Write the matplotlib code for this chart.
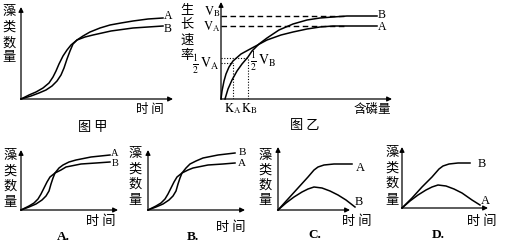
import matplotlib
matplotlib.use('Agg')
import matplotlib.pyplot as plt

plt.rcParams['font.family'] = ['Noto Sans CJK SC', 'DejaVu Sans']
plt.rcParams['mathtext.fontset'] = 'stix'

W, H = 505, 249

# ---- data (relative units: time / amount) ----
# 图甲: algae number vs time
jia_A_t = [0, 10, 18, 25, 31, 36, 40, 43, 46, 49, 52, 56, 62, 69, 79, 89, 100, 112, 127, 142]
jia_A_n = [0, 3, 6, 9, 13, 18, 24, 31, 40, 48, 55, 59, 63, 67, 71, 74, 76, 78, 80, 81]
jia_B_t = [0, 8, 15, 22, 28, 32, 35, 38, 42, 46, 50, 56, 64, 72, 90, 112, 142]
jia_B_n = [0, 4, 7, 11, 16, 22, 28, 35, 43, 49, 54, 59, 62, 64, 68, 71, 73]

# 图乙: growth rate vs phosphorus content
yi_A_p = [0, 1, 3, 5, 8, 12, 20, 31, 46, 60, 72, 86, 99, 112, 126, 156]
yi_A_v = [0, 8, 18, 25, 32, 38, 45, 51, 59, 64, 67, 70, 72, 73, 73, 73]
yi_B_p = [4, 7, 11, 16, 21, 27, 31, 38, 46, 58, 72, 86, 99, 112, 126, 156]
yi_B_v = [0, 10, 19, 28, 35, 42, 48, 55, 61, 69, 75, 79, 81, 82, 83, 83]
V_A, V_B = 73, 83
K_A, K_B = 12, 27

# option A
optA_A_t = [0, 8, 15, 21, 25, 28, 30, 32, 34, 38, 42, 48, 55, 70, 89]
optA_A_n = [0, 3, 6, 10, 14, 19, 26, 32, 37, 42, 45, 48, 50, 53, 55]
optA_B_t = [0, 8, 13, 17, 20, 23, 26, 29, 34, 40, 45, 60, 75, 89]
optA_B_n = [0, 4, 7, 11, 16, 22, 28, 33, 37, 40, 43, 46, 47, 48]
# option B
optB_B_t = [0, 8, 15, 21, 25, 28, 30, 32, 34, 38, 42, 48, 55, 70, 87]
optB_B_n = [0, 3, 6, 10, 14, 19, 26, 32, 37, 42, 46, 49, 52, 55, 57]
optB_A_t = [0, 8, 13, 17, 20, 23, 26, 29, 34, 40, 45, 60, 75, 87]
optB_A_n = [0, 4, 7, 11, 16, 22, 28, 33, 37, 40, 42, 45, 46, 47]
# option C
optC_A_t = [0, 10, 20, 30, 36, 40, 46, 56, 74]
optC_A_n = [0, 11, 22, 33, 40, 43, 45, 46, 46]
optC_B_t = [0, 8, 16, 24, 30, 36, 44, 52, 60, 68, 77]
optC_B_n = [0, 7, 13, 18, 21, 23, 22, 19, 15, 10, 3]
# option D
optD_B_t = [0, 10, 20, 30, 37, 41, 47, 56, 68]
optD_B_n = [0, 10, 21, 31, 39, 42, 44, 45, 45]
optD_A_t = [0, 8, 16, 24, 30, 36, 44, 52, 60, 70, 78]
optD_A_n = [0, 7, 13, 18, 21, 23, 22, 19, 15, 8, 3]

fig = plt.figure(figsize=(W / 100, H / 100), dpi=100)
fig.patch.set_facecolor('white')

LW = 1.1


def panel(ox, oy, ex, ey):
    """Axes whose origin sits at pixel (ox, oy), arrows end at ex / ey."""
    ax = fig.add_axes([ox / W, 1 - oy / H, (ex - ox) / W, (oy - ey) / H])
    ax.set_xlim(0, ex - ox)
    ax.set_ylim(0, oy - ey)
    ax.axis('off')
    ap = dict(arrowstyle='-|>', lw=0.9, color='k', mutation_scale=7,
              shrinkA=0, shrinkB=0)
    ax.annotate('', xy=(ex - ox, 0), xytext=(0, 0), arrowprops=ap,
                annotation_clip=False)
    ax.annotate('', xy=(0, oy - ey), xytext=(0, 0), arrowprops=ap,
                annotation_clip=False)
    return ax


def txt(x, y, s, size=9, **kw):
    fig.text(x / W, 1 - y / H, s, ha='center', va='center', size=size, **kw)


def vlabel(x, ys, s, size=9):
    for ch, y in zip(s, ys):
        txt(x, y, ch, size=size)


serif = dict(family='Liberation Serif')

# ---- 图甲 ----
ax = panel(21, 99, 173, 7)
ax.plot(jia_A_t, jia_A_n, color='k', lw=LW, clip_on=False)
ax.plot(jia_B_t, jia_B_n, color='k', lw=LW, clip_on=False)
vlabel(9, [12, 27, 43, 58], '藻类数量', 9.5)
txt(168, 16, 'A', 8.5, **serif)
txt(168, 29, 'B', 8.5, **serif)
txt(150, 109, '时 间', 9)
txt(93, 127, '图 甲', 9.5)

# ---- 图乙 ----
ax = panel(221, 99, 392, 2)
ax.plot(yi_A_p, yi_A_v, color='k', lw=LW, clip_on=False)
ax.plot(yi_B_p, yi_B_v, color='k', lw=LW, clip_on=False)
ax.plot([0, 126], [V_B, V_B], color='k', lw=1.0, ls=(0, (4, 2.5)))
ax.plot([0, 126], [V_A, V_A], color='k', lw=1.0, ls=(0, (4, 2.5)))
ax.plot([0, K_B], [V_B / 2, V_B / 2], color='k', lw=0.8, ls=(0, (1, 1.5)))
ax.plot([K_B, K_B], [0, V_B / 2], color='k', lw=0.8, ls=(0, (1, 1.5)))
ax.plot([0, K_A], [V_A / 2, V_A / 2], color='k', lw=0.8, ls=(0, (1, 1.5)))
ax.plot([K_A, K_A], [0, V_A / 2], color='k', lw=0.8, ls=(0, (1, 1.5)))
vlabel(187, [10, 24, 40, 55], '生长速率', 9.5)
txt(212, 12, r'$\mathrm{V_B}$', 9)
txt(212, 27, r'$\mathrm{V_A}$', 9)
txt(206, 64, r'$\frac{1}{2}\,\mathrm{V_A}$', 10)
txt(263, 61, r'$\frac{1}{2}\,\mathrm{V_B}$', 10)
txt(233, 109, r'$\mathrm{K_A}$', 9)
txt(249, 109, r'$\mathrm{K_B}$', 9)
txt(382, 15, 'B', 8.5, **serif)
txt(382, 27, 'A', 8.5, **serif)
txt(372, 109, '含磷量', 9)
txt(305, 125, '图 乙', 9.5)

# ---- option A ----
ax = panel(21, 210, 118, 150)
ax.plot(optA_A_t, optA_A_n, color='k', lw=LW, clip_on=False)
ax.plot(optA_B_t, optA_B_n, color='k', lw=LW, clip_on=False)
vlabel(10, [155, 171, 186, 202], '藻类数量', 9.5)
txt(115, 153, 'A', 7.5, **serif)
txt(115, 164, 'B', 7.5, **serif)
txt(101, 221, '时 间', 9.5)
txt(63, 237, 'A.', 9.5, weight='bold', **serif)

# ---- option B ----
ax = panel(148, 210, 245, 150)
ax.plot(optB_B_t, optB_B_n, color='k', lw=LW, clip_on=False)
ax.plot(optB_A_t, optB_A_n, color='k', lw=LW, clip_on=False)
vlabel(135, [153, 169, 184, 200], '藻类数量', 9.5)
txt(242, 152, 'B', 8, **serif)
txt(242, 164, 'A', 8, **serif)
txt(231, 228, '时 间', 9.5)
txt(193, 237, 'B.', 9.5, weight='bold', **serif)

# ---- option C ----
ax = panel(278, 210, 350, 147)
ax.plot(optC_A_t, optC_A_n, color='k', lw=LW, clip_on=False)
ax.plot(optC_B_t, optC_B_n, color='k', lw=LW, clip_on=False)
vlabel(265, [155, 170, 185, 200], '藻类数量', 9.5)
txt(360, 168, 'A', 9, **serif)
txt(359, 202, 'B', 9, **serif)
txt(357, 221, '时 间', 9.5)
txt(315, 235, 'C.', 9.5, weight='bold', **serif)

# ---- option D ----
ax = panel(402, 208, 488, 147)
ax.plot(optD_B_t, optD_B_n, color='k', lw=LW, clip_on=False)
ax.plot(optD_A_t, optD_A_n, color='k', lw=LW, clip_on=False)
vlabel(392, [152, 168, 183, 200], '藻类数量', 9.5)
txt(482, 164, 'B', 9, **serif)
txt(485, 201, 'A', 9, **serif)
txt(482, 221, '时 间', 9.5)
txt(438, 235, 'D.', 9.5, weight='bold', **serif)

fig.savefig('out.png', dpi=100)
